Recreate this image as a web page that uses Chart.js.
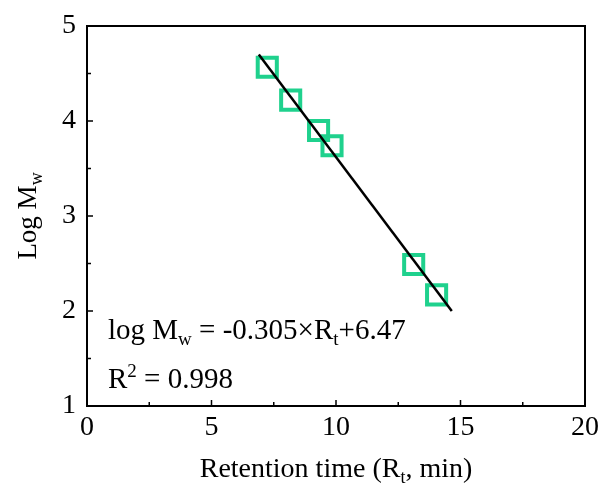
<!DOCTYPE html>
<html>
<head>
<meta charset="utf-8">
<script src="https://cdn.jsdelivr.net/npm/chart.js@4"></script>
<style>
  html, body { margin: 0; padding: 0; background: #fff; }
  #wrap { width: 600px; height: 486px; }
</style>
</head>
<body>
<div id="wrap"><canvas id="cal"></canvas></div>
<script>
// calibration points
const retentionTime = [7.24, 8.18, 9.30, 9.84, 13.12, 14.04];
const logMw = [4.565, 4.22, 3.90, 3.74, 2.49, 2.17];

// fitted line ends as drawn
const fitX = [6.9, 14.65];
const fitY = [4.70, 2.00];

const xTicks = [0, 5, 10, 15, 20];
const yTicks = [1, 2, 3, 4, 5];
const xMinor = [2.5, 7.5, 12.5, 17.5];
const yMinor = [1.5, 2.5, 3.5, 4.5];

const FONT = '"Liberation Serif", "Times New Roman", serif';
const GREEN = '#1fd18d';

// draw a run of text parts, some subscript/superscript
function drawRich(ctx, parts, x, y, size, align) {
  const small = Math.round(size * 0.66);
  const widths = parts.map(p => {
    ctx.font = (p.sub || p.sup ? small : size) + 'px ' + FONT;
    return ctx.measureText(p.t).width;
  });
  const total = widths.reduce((a, b) => a + b, 0);
  let cx = align === 'center' ? x - total / 2 : x;
  parts.forEach((p, i) => {
    ctx.font = (p.sub || p.sup ? small : size) + 'px ' + FONT;
    let dy = 0;
    if (p.sub) dy = size * 0.22;
    if (p.sup) dy = -size * 0.38;
    ctx.fillText(p.t, cx, y + dy);
    cx += widths[i];
  });
}

const framePlugin = {
  id: 'frame',
  afterDraw(chart) {
    const { ctx, chartArea: a, scales } = chart;
    ctx.save();
    ctx.strokeStyle = '#000';
    ctx.lineWidth = 2;
    ctx.strokeRect(a.left, a.top, a.right - a.left, a.bottom - a.top);

    // inward ticks on bottom and left
    ctx.lineWidth = 1.5;
    ctx.beginPath();
    xTicks.forEach(v => { const px = scales.x.getPixelForValue(v); ctx.moveTo(px, a.bottom); ctx.lineTo(px, a.bottom - 6); });
    xMinor.forEach(v => { const px = scales.x.getPixelForValue(v); ctx.moveTo(px, a.bottom); ctx.lineTo(px, a.bottom - 4); });
    yTicks.forEach(v => { const py = scales.y.getPixelForValue(v); ctx.moveTo(a.left, py); ctx.lineTo(a.left + 6, py); });
    yMinor.forEach(v => { const py = scales.y.getPixelForValue(v); ctx.moveTo(a.left, py); ctx.lineTo(a.left + 4, py); });
    ctx.stroke();

    ctx.fillStyle = '#000';
    ctx.textBaseline = 'alphabetic';
    ctx.textAlign = 'left';

    // x axis title
    drawRich(ctx, [{ t: 'Retention time (R' }, { t: 't', sub: true }, { t: ', min)' }],
      (a.left + a.right) / 2, 477, 28, 'center');

    // y axis title, rotated
    ctx.save();
    ctx.translate(36, (a.top + a.bottom) / 2);
    ctx.rotate(-Math.PI / 2);
    drawRich(ctx, [{ t: 'Log M' }, { t: 'w', sub: true }], 0, 0, 27, 'center');
    ctx.restore();

    // fit equation
    drawRich(ctx, [{ t: 'log M' }, { t: 'w', sub: true }, { t: ' = -0.305×R' }, { t: 't', sub: true }, { t: '+6.47' }],
      a.left + 21, 339, 29, 'left');
    drawRich(ctx, [{ t: 'R' }, { t: '2', sup: true }, { t: ' = 0.998' }],
      a.left + 21, 388, 29, 'left');
    ctx.restore();
  }
};

new Chart(document.getElementById('cal'), {
  type: 'scatter',
  data: {
    datasets: [
      {
        label: 'fit',
        data: fitX.map((x, i) => ({ x, y: fitY[i] })),
        showLine: true,
        borderColor: '#000',
        borderWidth: 2.5,
        pointRadius: 0,
        order: 0
      },
      {
        label: 'standards',
        data: retentionTime.map((x, i) => ({ x, y: logMw[i] })),
        pointStyle: 'rect',
        pointRadius: 13.5,
        pointBorderWidth: 4,
        borderColor: GREEN,
        backgroundColor: 'rgba(0,0,0,0)',
        order: 1
      }
    ]
  },
  options: {
    responsive: true,
    maintainAspectRatio: false,
    animation: false,
    layout: { autoPadding: false, padding: { top: 26, right: 15, left: 0, bottom: 0 } },
    plugins: { legend: { display: false }, tooltip: { enabled: false } },
    scales: {
      x: {
        type: 'linear', min: 0, max: 20,
        grid: { display: false },
        border: { display: false },
        ticks: { stepSize: 5, color: '#000', padding: -3, font: { family: FONT, size: 28 }, maxRotation: 0 },
        afterFit: s => { s.height = 80; s.paddingLeft = 0; s.paddingRight = 0; }
      },
      y: {
        type: 'linear', min: 1, max: 5,
        grid: { display: false },
        border: { display: false },
        ticks: { stepSize: 1, color: '#000', padding: 3, font: { family: FONT, size: 28 } },
        afterFit: s => { s.width = 87; s.paddingTop = 0; s.paddingBottom = 0; }
      }
    }
  },
  plugins: [framePlugin]
});
</script>
</body>
</html>
